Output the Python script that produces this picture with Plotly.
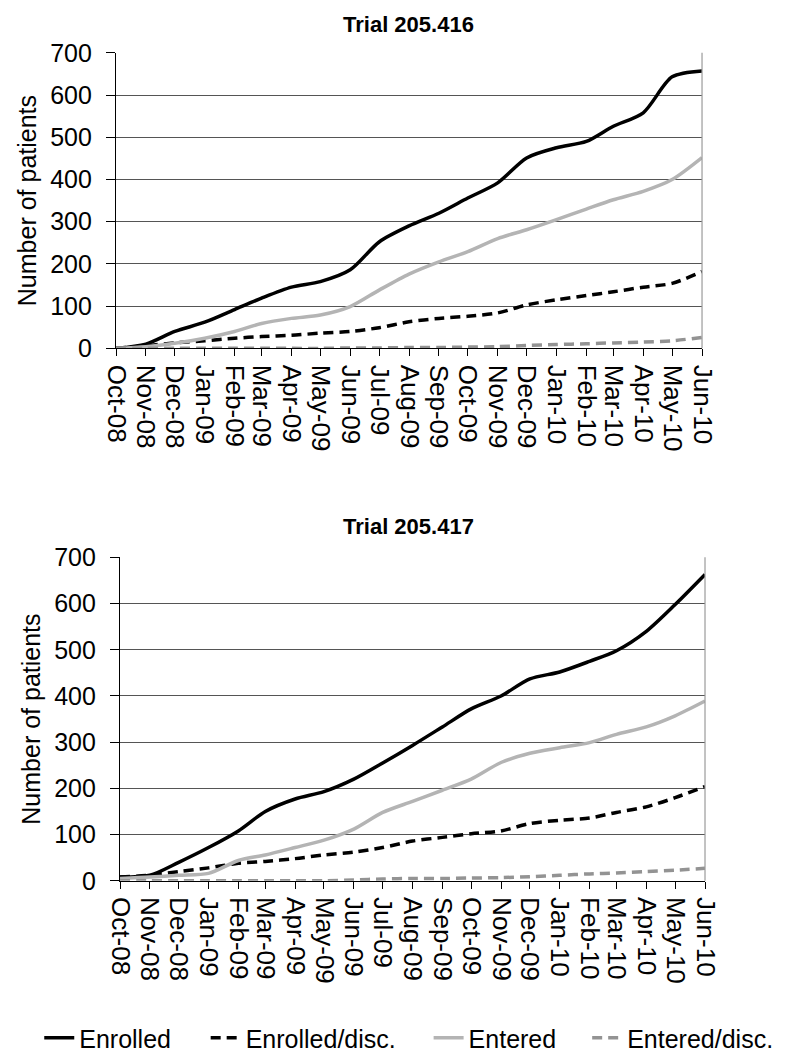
import plotly.graph_objects as go

# Month axis (first of each month) and the labels shown under each tick
months = ["2008-10-01", "2008-11-01", "2008-12-01", "2009-01-01", "2009-02-01",
          "2009-03-01", "2009-04-01", "2009-05-01", "2009-06-01", "2009-07-01",
          "2009-08-01", "2009-09-01", "2009-10-01", "2009-11-01", "2009-12-01",
          "2010-01-01", "2010-02-01", "2010-03-01", "2010-04-01", "2010-05-01",
          "2010-06-01"]

# Trial 205.416 cumulative patient counts
enrolled_416 = [0, 10, 40, 62, 92, 119, 145, 158, 186, 252, 290, 320, 356, 392,
                451, 475, 490, 526, 558, 643, 657]
enrolled_disc_416 = [0, 6, 13, 18, 24, 28, 31, 36, 40, 49, 63, 71, 76, 84,
                     103, 115, 125, 134, 145, 154, 182]
entered_416 = [0, 4, 12, 24, 40, 59, 71, 79, 99, 138, 176, 205, 229, 260,
               281, 305, 330, 352, 372, 400, 452]
entered_disc_416 = [0, 0, 0, 0, 0, 0, 0, 0, 1, 1, 2, 2, 3, 4,
                    7, 9, 11, 13, 15, 18, 26]

# Trial 205.417 cumulative patient counts
enrolled_417 = [8, 12, 40, 72, 108, 150, 177, 193, 220, 255, 293, 333, 372, 400,
                437, 452, 475, 498, 540, 598, 663]
enrolled_disc_417 = [8, 12, 20, 28, 38, 42, 48, 56, 62, 72, 86, 94, 102, 108,
                     124, 131, 136, 148, 160, 180, 204]
entered_417 = [5, 8, 12, 16, 44, 56, 72, 88, 112, 148, 172, 196, 220, 256,
               276, 288, 299, 317, 333, 357, 389]
entered_disc_417 = [0, 0, 0, 0, 0, 0, 0, 0, 2, 4, 5, 5, 6, 7,
                    9, 12, 15, 17, 20, 23, 27]

series_names = ["Enrolled", "Enrolled/disc.", "Entered", "Entered/disc."]
series_colors = ["#000000", "#000000", "#b4b4b4", "#939393"]
series_dash = ["solid", "10px,6px", "solid", "10px,6px"]

FONT = "Liberation Sans, Arial, sans-serif"

fig = go.Figure()

trial_data = [
    ("x", "y", [enrolled_416, enrolled_disc_416, entered_416, entered_disc_416]),
    ("x2", "y2", [enrolled_417, enrolled_disc_417, entered_417, entered_disc_417]),
]

legend_ids = ["legend", "legend2", "legend3", "legend4"]

for t, (xa, ya, values) in enumerate(trial_data):
    for i, vals in enumerate(values):
        fig.add_trace(go.Scatter(
            x=months, y=vals, mode="lines", name=series_names[i],
            line=dict(color=series_colors[i], width=3.5, dash=series_dash[i],
                      shape="spline", smoothing=0.8),
            xaxis=xa, yaxis=ya,
            showlegend=(t == 0), legend=legend_ids[i],
        ))

xaxis_common = dict(
    type="date", range=[months[0], months[-1]], tick0=months[0], dtick="M1",
    tickformat="%b-%y", tickangle=90, ticks="outside", ticklen=7,
    tickcolor="#000", tickwidth=1.2, showline=True, linecolor="#000", linewidth=1.2,
    showgrid=False, tickfont=dict(family=FONT, size=26, color="#000"),
    ticklabelstandoff=3, automargin=False,
)
yaxis_common = dict(
    range=[0, 700], dtick=100, ticks="outside", ticklen=9, tickcolor="#000",
    tickwidth=1.2, showline=True, linecolor="#000", linewidth=1.2,
    showgrid=True, gridcolor="#555555", gridwidth=1.2, zeroline=False,
    tickfont=dict(family=FONT, size=25, color="#000"), ticklabelstandoff=9,
    title=dict(text="Number of patients", font=dict(family=FONT, size=25, color="#000"),
               standoff=6),
    automargin=False,
)

fig.update_layout(
    width=785, height=1061,
    margin=dict(l=0, r=0, t=0, b=0),
    paper_bgcolor="white", plot_bgcolor="white",
    xaxis=dict(domain=[0.1478, 0.8943], anchor="y", **xaxis_common),
    yaxis=dict(domain=[0.6701, 0.9500], anchor="x", **yaxis_common),
    xaxis2=dict(domain=[0.1529, 0.8981], anchor="y2", **xaxis_common),
    yaxis2=dict(domain=[0.1659, 0.4722], anchor="x2", **yaxis_common),
    font=dict(family=FONT, color="#000"),
)

# Chart titles
for text, ypos in [("Trial 205.416", 0.977), ("Trial 205.417", 0.501)]:
    fig.add_annotation(text=f"<b>{text}</b>", x=0.52, y=ypos, xref="paper", yref="paper",
                       showarrow=False, xanchor="center", yanchor="middle",
                       font=dict(family=FONT, size=22, color="#000"))

# Light right-hand border of each plot area
for xa, ya in [("x", "y"), ("x2", "y2")]:
    fig.add_shape(type="line", xref=f"{xa} domain", yref=f"{ya} domain",
                  x0=1, x1=1, y0=0, y1=1, line=dict(color="#9a9a9a", width=1.2))

# One legend per series, laid out in a row beneath the charts
legend_x = [0.05, 0.262, 0.546, 0.748]
layout_legends = {}
for lid, lx in zip(legend_ids, legend_x):
    layout_legends[lid] = dict(
        x=lx, y=0.017, xanchor="left", yanchor="middle", orientation="h",
        bgcolor="rgba(0,0,0,0)", font=dict(family=FONT, size=25, color="#000"),
        itemwidth=30,
    )
fig.update_layout(**layout_legends)

fig.write_html("out.html")
